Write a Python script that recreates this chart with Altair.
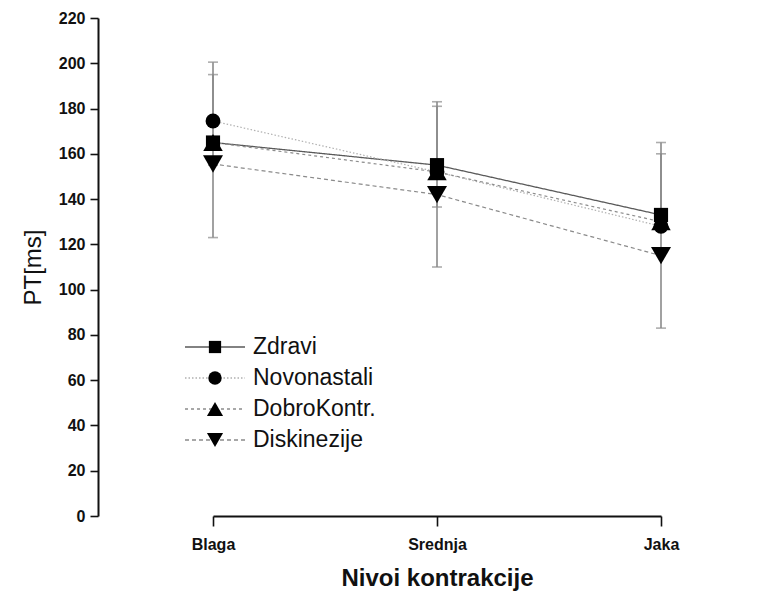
import altair as alt
import pandas as pd

# Contraction levels on the x axis
categories = ["Blaga", "Srednja", "Jaka"]

# Groups and their mean PT values per level
series = ["Zdravi", "Novonastali", "DobroKontr.", "Diskinezije"]
mean_zdravi = [165, 155, 133]
mean_novonastali = [174.5, 152, 128]
mean_dobrokontr = [165, 152, 130]
mean_diskinezije = [155.5, 142, 115]

# Standard deviations (drawn one-sided: +SD for the first two groups, -SD for the others)
sd_zdravi = [30, 28, 32]
sd_novonastali = [26, 29, 32]
sd_dobrokontr = [10, 15.5, 14]
sd_diskinezije = [32.5, 32, 32]
sd_direction = [1, 1, -1, -1]

y_ticks = list(range(0, 221, 20))

means = [mean_zdravi, mean_novonastali, mean_dobrokontr, mean_diskinezije]
sds = [sd_zdravi, sd_novonastali, sd_dobrokontr, sd_diskinezije]

rows = []
for s, m, sd, d in zip(series, means, sds, sd_direction):
    for c, mv, sv in zip(categories, m, sd):
        rows.append({"level": c, "group": s, "pt": mv, "cap": mv + d * sv})
df = pd.DataFrame(rows)

FONT = "Liberation Sans"
shapes = ["square", "circle", "triangle-up", "triangle-down"]
sizes = [200, 220, 380, 400]
legend_sizes = [150, 180, 260, 260]
line_colors = ["#5a5a5a", "#b0b0b0", "#8c8c8c", "#8a8a8a"]
line_dashes = [[1, 0], [1.5, 2], [3, 3], [4, 3]]
line_widths = [1.3, 1.2, 1.2, 1.2]

x_enc = alt.X(
    "level:N",
    sort=categories,
    scale=alt.Scale(type="point", range=[115, 563], padding=0),
    axis=alt.Axis(
        title="Nivoi kontrakcije",
        titleFont=FONT, titleFontSize=24, titleFontWeight="bold", titleColor="#111",
        titlePadding=14,
        labelFont=FONT, labelFontSize=16, labelFontWeight="bold", labelColor="#111",
        labelAngle=0, labelPadding=10,
        domainColor="#111", domainWidth=2, tickColor="#111", tickWidth=1.6, tickSize=10,
        grid=False,
    ),
)
y_scale = alt.Scale(domain=[0, 220], nice=False, zero=True)
y_axis = alt.Axis(
    title="PT[ms]", values=y_ticks,
    titleFont=FONT, titleFontSize=24, titleFontWeight="normal", titleColor="#111",
    titlePadding=13,
    labelFont=FONT, labelFontSize=16, labelFontWeight="bold", labelColor="#111",
    labelPadding=5,
    domainColor="#111", domainWidth=2, tickColor="#111", tickWidth=1.6, tickSize=8,
    grid=False,
)

base = alt.Chart(df)

layers = []

# error bars behind everything
err_rule = base.mark_rule(color="#8a8a8a", strokeWidth=1.6).encode(
    x=x_enc,
    y=alt.Y("pt:Q", scale=y_scale, axis=y_axis),
    y2="cap:Q",
)
err_cap = base.mark_tick(color="#8a8a8a", thickness=1.6, size=10, orient="horizontal").encode(
    x=alt.X("level:N", sort=categories),
    y=alt.Y("cap:Q"),
)
layers += [err_rule, err_cap]

for s, col, dash, w in zip(series, line_colors, line_dashes, line_widths):
    layers.append(
        base.transform_filter(alt.datum.group == s)
        .mark_line(color=col, strokeDash=dash, strokeWidth=w)
        .encode(x=alt.X("level:N", sort=categories), y=alt.Y("pt:Q"))
    )

for s, shp, sz in zip(series, shapes, sizes):
    layers.append(
        base.transform_filter(alt.datum.group == s)
        .mark_point(shape=shp, size=sz, filled=True, color="#000", opacity=1)
        .encode(x=alt.X("level:N", sort=categories), y=alt.Y("pt:Q"))
    )

# hand-built legend inside the plot area
leg_df = pd.DataFrame({"group": series})
leg_x0, leg_x1, leg_xm, leg_tx = 87, 147, 117, 155
leg_top, leg_gap = 329, 31
for i, (s, shp, lsz, col, dash, w) in enumerate(
    zip(series, shapes, legend_sizes, line_colors, line_dashes, line_widths)
):
    ly = leg_top + i * leg_gap
    one = alt.Chart(leg_df).transform_filter(alt.datum.group == s)
    layers.append(
        one.mark_rule(color=col, strokeDash=dash, strokeWidth=w + 0.3).encode(
            x=alt.value(leg_x0), x2=alt.value(leg_x1), y=alt.value(ly)
        )
    )
    layers.append(
        one.mark_point(shape=shp, size=lsz, filled=True, color="#000", opacity=1).encode(
            x=alt.value(leg_xm), y=alt.value(ly)
        )
    )
    layers.append(
        one.mark_text(align="left", baseline="middle", font=FONT, fontSize=23, color="#111").encode(
            x=alt.value(leg_tx), y=alt.value(ly), text="group:N"
        )
    )

chart = (
    alt.layer(*layers)
    .properties(
        width=667,
        height=498,
        autosize=alt.AutoSizeParams(type="none"),
        padding={"left": 98, "top": 18, "right": 0, "bottom": 81},
        background="white",
    )
    .configure_view(stroke=None)
)

chart.save("out.html", embed_options={"renderer": "svg", "actions": False})
